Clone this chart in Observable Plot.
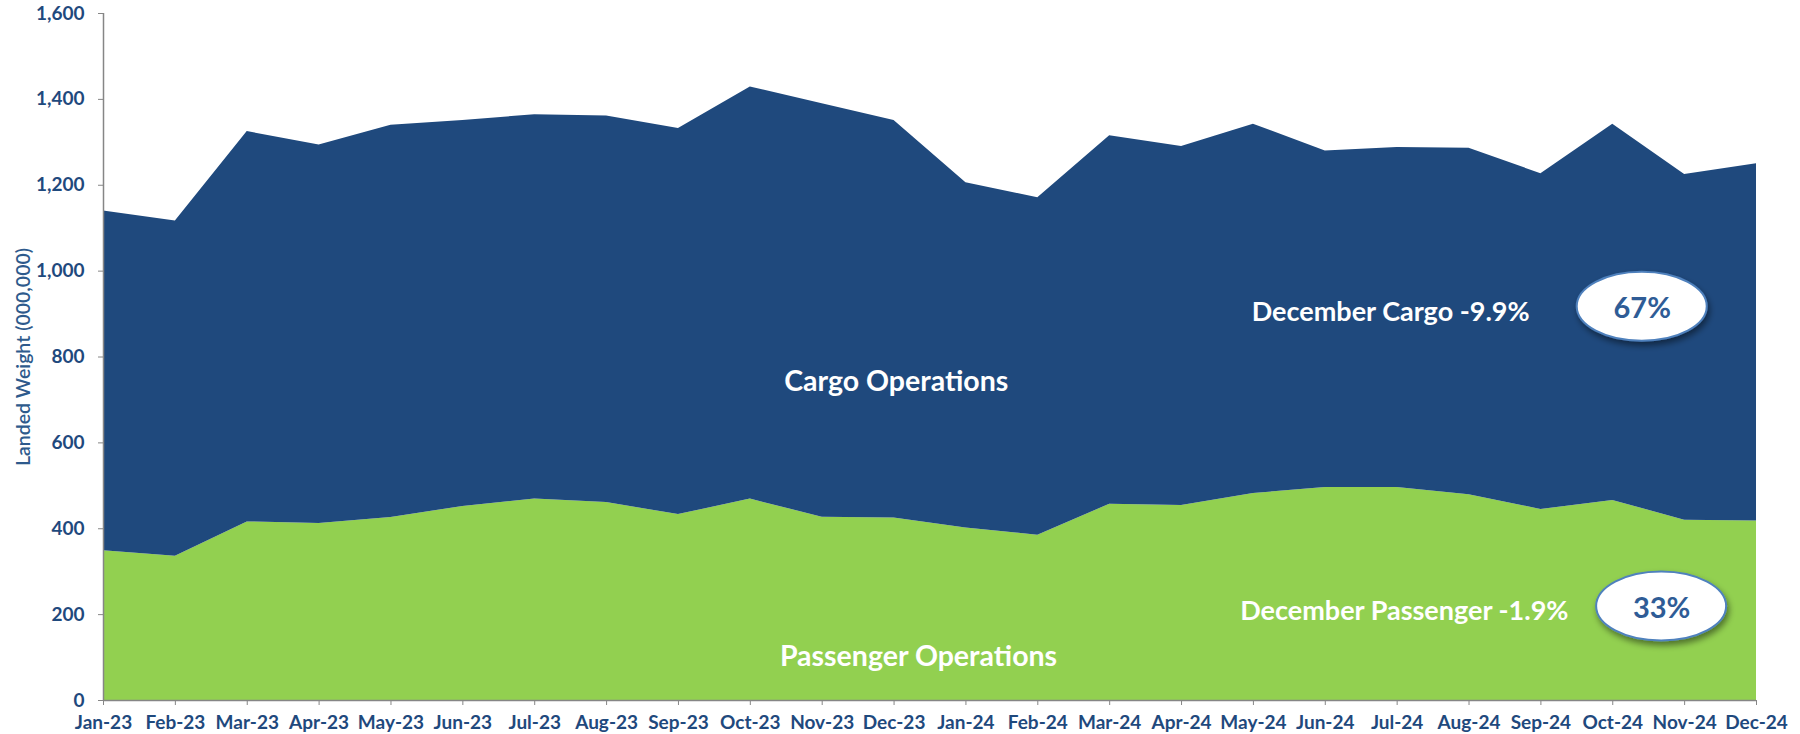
<!DOCTYPE html>
<html>
<head>
<meta charset="utf-8">
<script src="https://cdn.jsdelivr.net/npm/d3@7"></script>
<script src="https://cdn.jsdelivr.net/npm/@observablehq/plot@0.6"></script>
<style>
  html, body { margin: 0; padding: 0; background: #fff; }
  #chart svg { display: block; }
</style>
</head>
<body>
<div id="chart"></div>
<script>
// ---- Data ----
const months = ["Jan-23","Feb-23","Mar-23","Apr-23","May-23","Jun-23","Jul-23","Aug-23","Sep-23","Oct-23","Nov-23","Dec-23",
                "Jan-24","Feb-24","Mar-24","Apr-24","May-24","Jun-24","Jul-24","Aug-24","Sep-24","Oct-24","Nov-24","Dec-24"];
const passenger = [349, 336, 416, 412, 426, 452, 469, 461, 433, 469, 427, 425,
                   402, 385, 457, 454, 482, 496, 496, 479, 445, 466, 420, 418];
const cargo     = [791, 781, 909, 882, 914, 899, 895, 900, 899, 960, 963, 926,
                   804, 786, 858, 836, 860, 784, 792, 807, 782, 876, 805, 832];
const seriesNames = ["Passenger", "Cargo"];
const seriesColors = ["#92D050", "#1F497D"];
const yTicks = [0, 200, 400, 600, 800, 1000, 1200, 1400, 1600];
const bubbleLabels = ["67%", "33%"];

// long-format table for the stacked area
const rows = months.flatMap((m, i) => [
  {i, month: m, series: "Passenger", value: passenger[i]},
  {i, month: m, series: "Cargo", value: cargo[i]}
]);

const FONT = "Lato, 'Open Sans', sans-serif";
const bubbles = [
  {x: 21.41, y: 917, label: bubbleLabels[0]},
  {x: 21.68, y: 219, label: bubbleLabels[1]}
];

function bubbleMark(index, scales) {
  const g = d3.create("svg:g");
  const f = g.append("defs").append("filter")
    .attr("id", "bubbleShadow").attr("x", "-30%").attr("y", "-30%")
    .attr("width", "160%").attr("height", "180%");
  f.append("feDropShadow").attr("dx", 2).attr("dy", 4).attr("stdDeviation", 3)
    .attr("flood-color", "#000").attr("flood-opacity", 0.45);
  for (const b of bubbles) {
    g.append("ellipse")
      .attr("cx", scales.x(b.x)).attr("cy", scales.y(b.y))
      .attr("rx", 65).attr("ry", 34.5)
      .attr("fill", "#fff").attr("stroke", "#4F81BD").attr("stroke-width", 2)
      .attr("filter", "url(#bubbleShadow)");
  }
  return g.node();
}

const chart = Plot.plot({
  width: 1800,
  height: 734,
  marginLeft: 103,
  marginRight: 44,
  marginTop: 13,
  marginBottom: 34,
  style: {fontFamily: FONT, background: "#fff", overflow: "visible"},
  x: {domain: [0, months.length - 1]},
  y: {domain: [0, 1600]},
  color: {domain: seriesNames, range: seriesColors},
  marks: [
    Plot.areaY(rows, {x: "i", y: "value", fill: "series", order: seriesNames}),
    Plot.ruleX([0], {stroke: "#868686", strokeWidth: 1.5}),
    Plot.ruleY([0], {stroke: "#868686", strokeWidth: 1.5}),
    Plot.axisY({
      ticks: yTicks, tickFormat: d3.format(","), tickSize: 5, tickPadding: 14,
      stroke: "#868686", fill: "#1F497D", fontSize: 19, fontWeight: "bold", label: null
    }),
    Plot.axisX({
      ticks: d3.range(months.length), tickFormat: i => months[i], tickSize: 5, tickPadding: 10,
      stroke: "#868686", fill: "#1F497D", fontSize: 19, fontWeight: "bold", label: null
    }),
    Plot.text(["Landed Weight (000,000)"], {
      frameAnchor: "left", textAnchor: "middle", dx: -80, rotate: -90,
      fontSize: 19.5, fontWeight: 600, fill: "#2E5A8C"
    }),
    Plot.text(["Cargo Operations"], {x: 11.03, y: 743, fill: "#fff", fontSize: 28.5, fontWeight: "bold"}),
    Plot.text(["Passenger Operations"], {x: 11.34, y: 102, fill: "#fff", fontSize: 28.5, fontWeight: "bold"}),
    Plot.text(["December Cargo -9.9%"], {x: 17.91, y: 903, fill: "#fff", fontSize: 27, fontWeight: "bold"}),
    Plot.text(["December Passenger -1.9%"], {x: 18.10, y: 207, fill: "#fff", fontSize: 27, fontWeight: "bold"}),
    bubbleMark,
    Plot.text(bubbles, {x: "x", y: "y", text: "label", dy: 2, fill: "#2F5C96", fontSize: 29, fontWeight: "bold"})
  ]
});

document.getElementById("chart").appendChild(chart);
</script>
</body>
</html>
